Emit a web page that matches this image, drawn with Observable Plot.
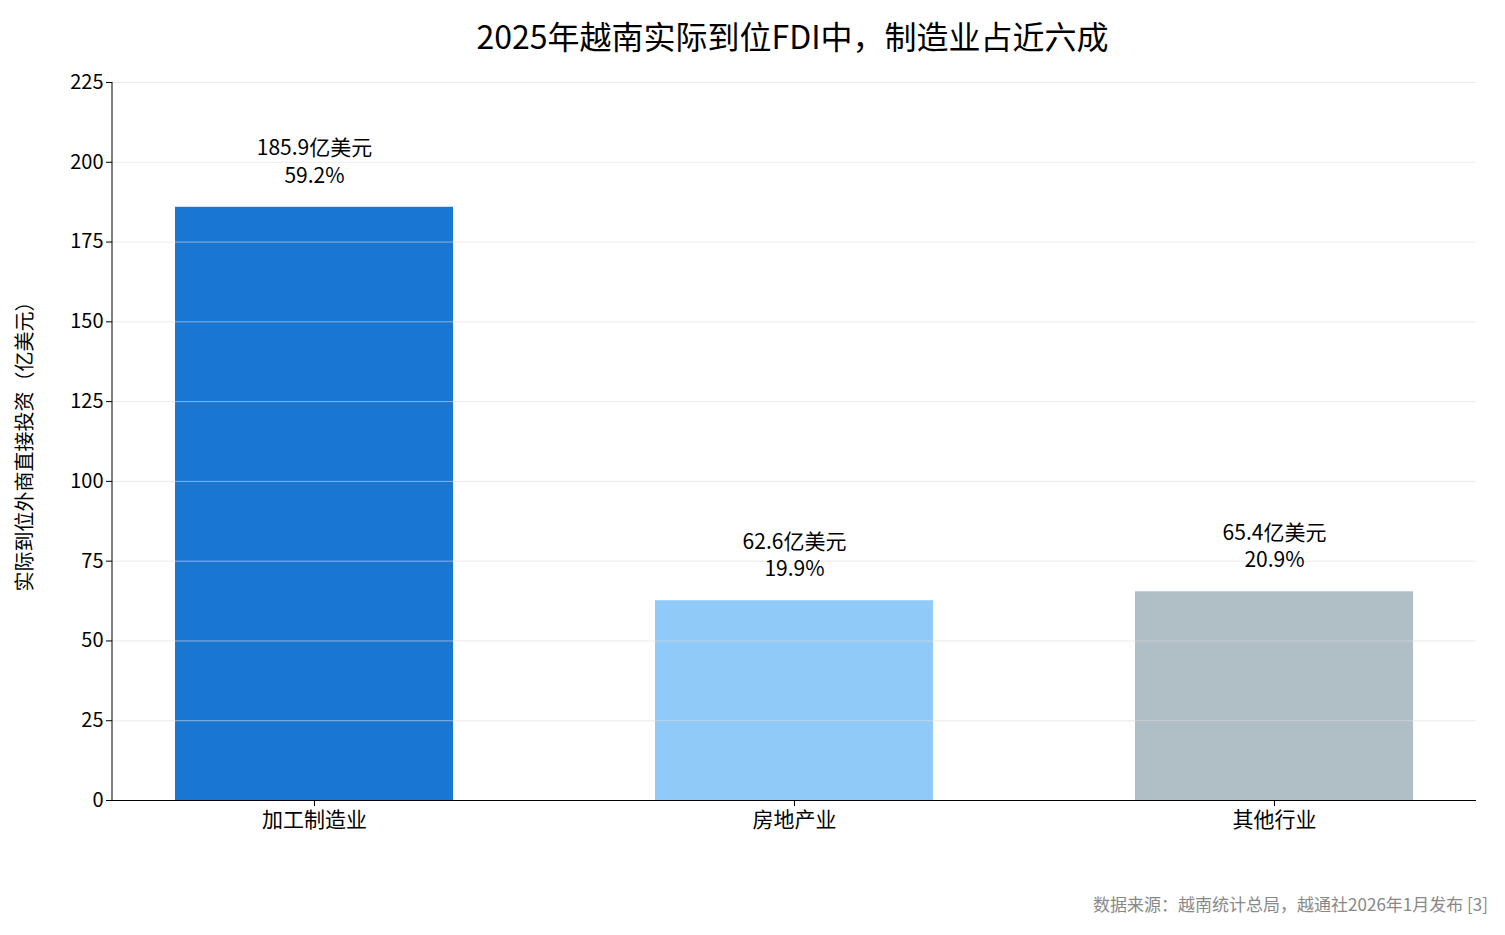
<!DOCTYPE html>
<html><head><meta charset="utf-8">
<script src="https://cdn.jsdelivr.net/npm/d3@7"></script>
<script src="https://cdn.jsdelivr.net/npm/@observablehq/plot@0.6"></script>
<style>
body{margin:0;background:#fff;font-family:"Noto Sans CJK SC","Noto Sans",sans-serif;width:1505px}
#title{height:65px;line-height:70px;text-align:center;font-size:32px;padding-left:80px;color:#000}
#cap{text-align:right;font-size:17px;color:#888;padding-right:17px;margin-top:6px}
</style></head><body>
<div id="title">2025年越南实际到位FDI中，制造业占近六成</div>
<div id="chart"></div>
<div id="cap">数据来源：越南统计总局，越通社2026年1月发布 [3]</div>
<script>
const categories = ["加工制造业","房地产业","其他行业"];
const values = [185.9, 62.6, 65.4];
const shares = ["59.2%","19.9%","20.9%"];
const colors = ["#1976D2","#90CAF9","#B0BEC5"];
const yTicks = [0,25,50,75,100,125,150,175,200,225];
const data = categories.map((c,i)=>({c, v:values[i], s:shares[i], col:colors[i], label:`${values[i]}亿美元\n${shares[i]}`}));
const chart = Plot.plot({
  width:1505, height:820,
  marginLeft:112, marginRight:29, marginTop:17, marginBottom:85,
  style:{fontFamily:'"Noto Sans CJK SC","Noto Sans",sans-serif', fontSize:"20px", color:"#000", background:"#fff"},
  x:{domain:categories, paddingInner:0.42, paddingOuter:0.13, label:null},
  y:{domain:[0,225], ticks:yTicks, label:"实际到位外商直接投资（亿美元）"},
  marks:[
    Plot.barY(data,{x:"c", y:"v", fill:"col"}),
    Plot.gridY(yTicks,{stroke:"#ddd", strokeOpacity:0.6}),
    Plot.axisY({ticks:yTicks, tickSize:6, fontSize:20, label:"实际到位外商直接投资（亿美元）", labelAnchor:"center", labelArrow:"none", labelOffset:95}),
    Plot.axisX({tickSize:6, fontSize:21, tickPadding:6}),
    Plot.ruleY([0],{stroke:"#000"}),
    Plot.ruleX([0],{x:()=>categories[0], stroke:"none"}),
    Plot.text(data,{x:"c", y:"v", text:"label", dy:-47, fontSize:21, lineHeight:1.3, fill:"#000"})
  ]
});
document.getElementById("chart").appendChild(chart);
// left axis line
const svg = d3.select(chart);
svg.append("line").attr("x1",112).attr("x2",112).attr("y1",17).attr("y2",735).attr("stroke","#000");
</script>
</body></html>
